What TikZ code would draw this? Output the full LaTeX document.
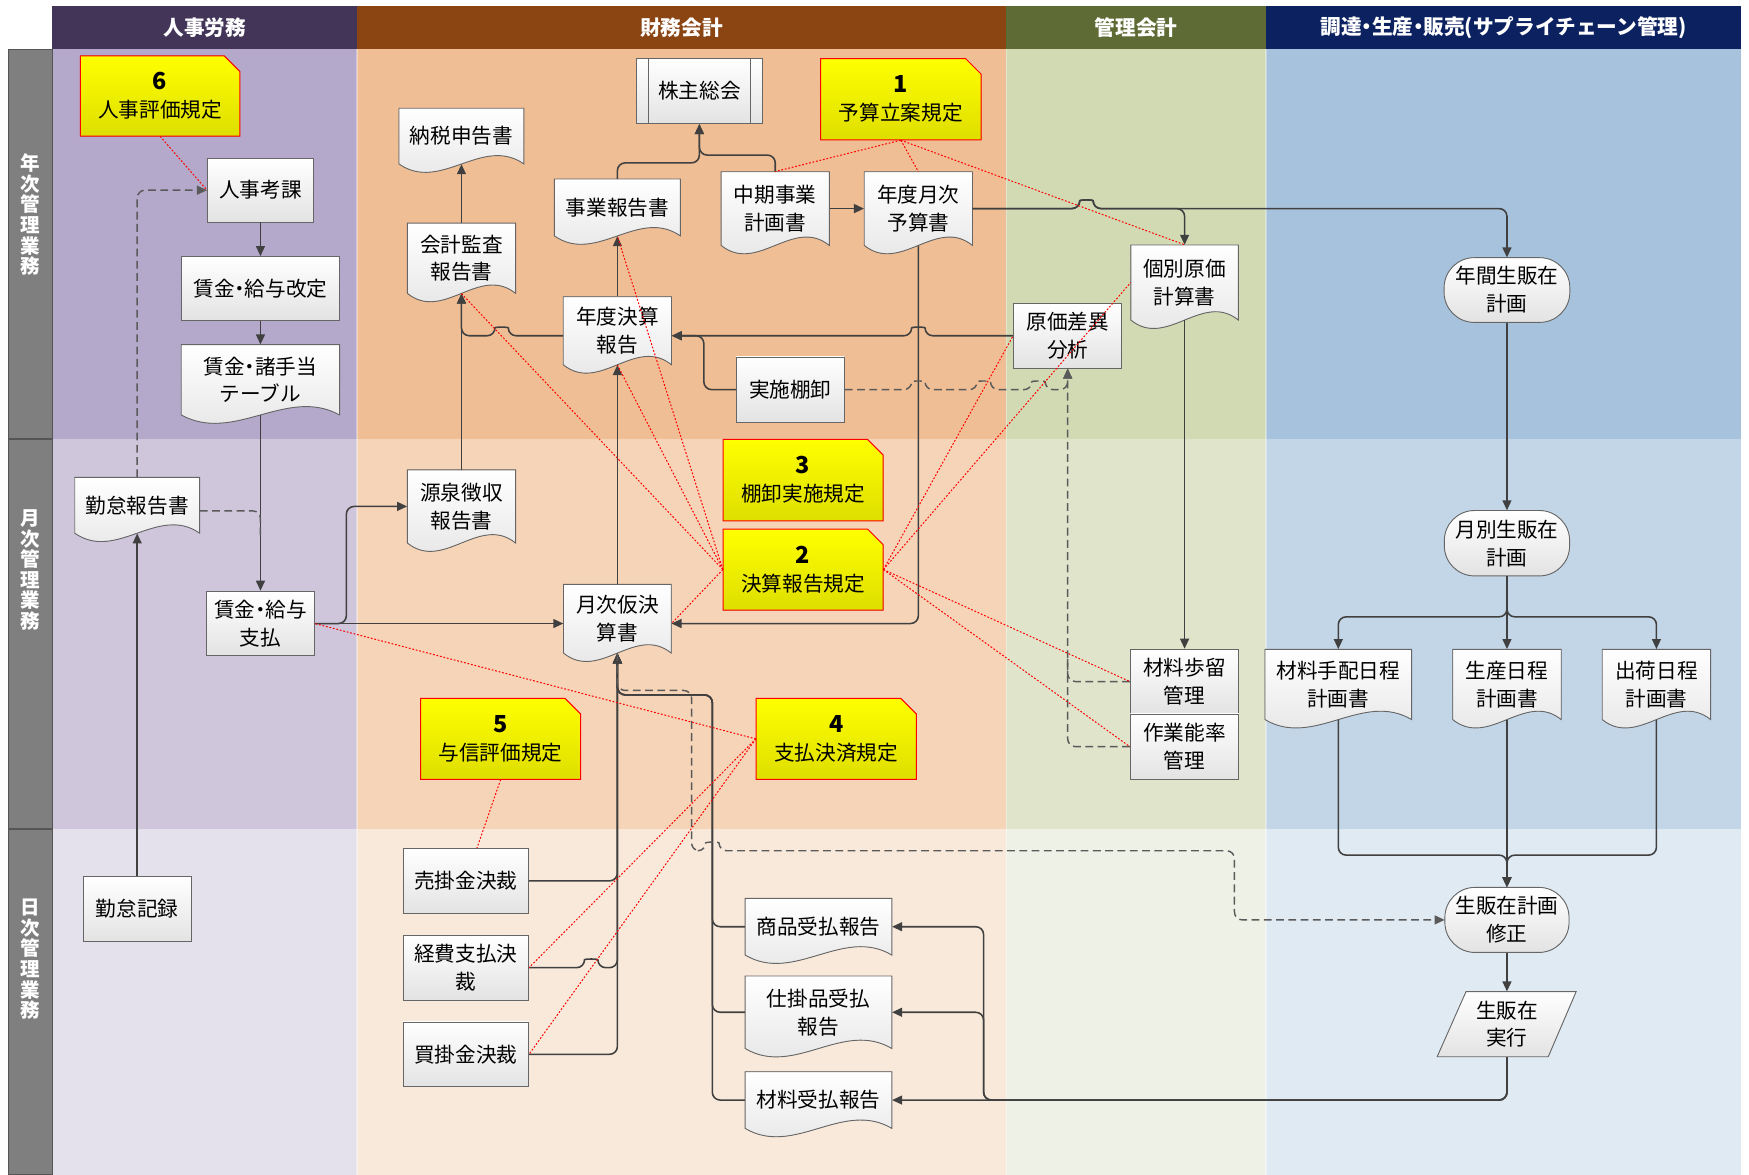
\documentclass[tikz,border=0pt]{standalone}
\usepackage{fontspec}
\setmainfont{Noto Sans CJK JP}
\usetikzlibrary{arrows.meta,calc}
\definecolor{hdA}{HTML}{433557}
\definecolor{hdB}{HTML}{8B4513}
\definecolor{hdC}{HTML}{5F6B34}
\definecolor{hdD}{HTML}{0C2160}
\definecolor{A1}{HTML}{B4A9CA}\definecolor{B1}{HTML}{F0BE94}\definecolor{C1}{HTML}{D2DAB4}\definecolor{D1}{HTML}{A7C2DC}
\definecolor{A2}{HTML}{CFC6DC}\definecolor{B2}{HTML}{F6D4B7}\definecolor{C2}{HTML}{DFE4CB}\definecolor{D2}{HTML}{C3D6E8}
\definecolor{A3}{HTML}{E5E1EC}\definecolor{B3}{HTML}{F9E9DA}\definecolor{C3}{HTML}{EEF1E6}\definecolor{D3}{HTML}{E0EAF3}
\definecolor{lg}{HTML}{7F7F7F}
\definecolor{lgb}{HTML}{555555}
\definecolor{linec}{HTML}{404040}
\definecolor{dashc}{HTML}{5A5A5A}
\definecolor{boxb}{HTML}{666666}
\definecolor{nb}{HTML}{DEDE00}
\newcommand\ndot{\makebox[0.5em][c]{・}}
\newcommand\mkdoc[6]{%
  \filldraw[docsh] ({#2-#4/2},{#3-#5/2}) -- ({#2+#4/2},{#3-#5/2}) -- ({#2+#4/2},{#3+#5/2})
    .. controls ({#2+#4/6},{#3+#5/2-26}) and ({#2-#4/6},{#3+#5/2+26}) .. ({#2-#4/2},{#3+#5/2}) -- cycle;
  \node[txt,minimum width=#4,minimum height=#5] (#1) at (#2,#3) {#6};}
\newcommand\mknote[7]{%
  \filldraw[notesh] ({#2-#4/2},{#3-#5/2}) -- ({#2+#4/2-14},{#3-#5/2}) -- ({#2+#4/2},{#3-#5/2+14}) -- ({#2+#4/2},{#3+#5/2}) -- ({#2-#4/2},{#3+#5/2}) -- cycle;
  \node[txt,minimum width=#4,minimum height=#5] (#1) at (#2,#3) {{\bfseries\fontsize{21}{26}\selectfont #6}\\#7};}
\newcommand\mkterm[6]{%
  \filldraw[docsh, rounded corners=27pt] ({#2-#4/2},{#3-#5/2}) rectangle ({#2+#4/2},{#3+#5/2});
  \node[txt,minimum width=#4,minimum height=#5] (#1) at (#2,#3) {#6};}
\begin{document}
\begin{tikzpicture}[x=1pt,y=-1pt,
  txt/.style={font=\fontsize{18.5}{25}\selectfont, align=center, inner sep=0pt},
  box/.style={txt, draw=boxb, line width=0.8pt, top color=white, bottom color=black!11},
  docsh/.style={draw=boxb, line width=0.8pt, top color=white, bottom color=black!11},
  notesh/.style={draw=red, line width=0.9pt, top color=yellow, bottom color=nb},
  conn/.style={draw=linec, line width=1.4pt, rounded corners=7pt, -{Triangle[length=9pt,width=8pt]}},
  plainl/.style={draw=linec, line width=1.4pt, rounded corners=7pt},
  dashl/.style={draw=dashc, line width=1.3pt, dash pattern=on 7pt off 4pt, rounded corners=7pt},
  reddot/.style={draw=red, line width=0.9pt, dash pattern=on 1.6pt off 1.6pt},
  hdr/.style={font=\bfseries\fontsize{18.5}{22}\selectfont, text=white, inner sep=0pt},
  lbl/.style={font=\bfseries\fontsize{17.5}{18.5}\selectfont, text=white, align=center, inner sep=0pt}]
\useasboundingbox (0,0) rectangle (1568,1053);
% lanes
\fill[A1] (47,44.2) rectangle (320,393.6);
\fill[B1] (320,44.2) rectangle (902,393.6);
\fill[C1] (902,44.2) rectangle (1135,393.6);
\fill[D1] (1135,44.2) rectangle (1561,393.6);
\fill[A2] (47,393.6) rectangle (320,743.3);
\fill[B2] (320,393.6) rectangle (902,743.3);
\fill[C2] (902,393.6) rectangle (1135,743.3);
\fill[D2] (1135,393.6) rectangle (1561,743.3);
\fill[A3] (47,743.3) rectangle (320,1053);
\fill[B3] (320,743.3) rectangle (902,1053);
\fill[C3] (902,743.3) rectangle (1135,1053);
\fill[D3] (1135,743.3) rectangle (1561,1053);
\foreach \xx in {320,902,1135} {\draw[white, opacity=0.35, line width=1pt] (\xx,44.2) -- (\xx,1053);}
% headers
\fill[hdA] (47,5.4) rectangle (320,44.2);
\fill[hdB] (320,5.4) rectangle (902,44.2);
\fill[hdC] (902,5.4) rectangle (1135,44.2);
\fill[hdD] (1135,5.4) rectangle (1561,44.2);
\node[hdr] (hA) at (183.5,24.8) {人事労務};
\node[hdr] (hB) at (611,24.8) {財務会計};
\node[hdr] (hC) at (1018.5,24.8) {管理会計};
\node[hdr] (hD) at (1348,24.8) {調達\ndot 生産\ndot 販売(サプライチェーン管理)};
% row labels
\filldraw[fill=lg, draw=lgb, line width=1.2pt] (7.5,44.2) rectangle (47,393.6);
\filldraw[fill=lg, draw=lgb, line width=1.2pt] (7.5,393.6) rectangle (47,743.3);
\filldraw[fill=lg, draw=lgb, line width=1.2pt] (7.5,743.3) rectangle (47,1053);
\node[lbl] (rA) at (27.3,192.5) {年\\次\\管\\理\\業\\務};
\node[lbl] (rB) at (27.3,511) {月\\次\\管\\理\\業\\務};
\node[lbl] (rC) at (27.3,860) {日\\次\\管\\理\\業\\務};
% ---------- nodes: column 1
\mknote{n6}{143.5}{86}{143}{72}{6}{人事評価規定}
\node[box, minimum width=95, minimum height=57] (kouka) at (233.5,170.5) {人事考課};
\node[box, minimum width=142, minimum height=57] (kaitei) at (233.5,258.5) {賃金\ndot 給与改定};
\mkdoc{table}{233.5}{340.5}{142}{63}{賃金\ndot 諸手当\\テーブル}
\mkdoc{krep}{123}{453}{112}{50}{勤怠報告書}
\node[box, minimum width=97, minimum height=58] (shiharai) at (233.5,559) {賃金\ndot 給与\\支払};
\node[box, minimum width=97, minimum height=58] (krec) at (123,815) {勤怠記録};
% ---------- column 2
\mkdoc{nouzei}{413.7}{122}{112}{50}{納税申告書}
\mkdoc{kaikei}{413.7}{231.5}{97}{63}{会計監査\\報告書}
\node[box, minimum width=112.5, minimum height=58.5] (kabu) at (627,81.5) {株主総会};
\draw[boxb, line width=0.8pt] ($(kabu.north west)+(11,0)$) -- ($(kabu.south west)+(11,0)$);
\draw[boxb, line width=0.8pt] ($(kabu.north east)+(-11,0)$) -- ($(kabu.south east)+(-11,0)$);
\mknote{n1}{807.6}{89}{144}{73}{1}{予算立案規定}
\mkdoc{jigyou}{553.5}{186}{113}{51}{事業報告書}
\mkdoc{chuuki}{695}{187}{97}{66}{中期事業\\計画書}
\mkdoc{yosan}{823.3}{187}{97}{66}{年度月次\\予算書}
\mkdoc{nendo}{553.5}{296.5}{97}{61}{年度決算\\報告}
\node[box, minimum width=97, minimum height=58.6] (tana) at (708.5,349.3) {実施棚卸};
\mkdoc{gensen}{413.7}{454}{97}{65.6}{源泉徴収\\報告書}
\mknote{n3}{720}{430.4}{143.5}{73}{3}{棚卸実施規定}
\mknote{n2}{720}{510.6}{143.5}{72.6}{2}{決算報告規定}
\mkdoc{getsuji}{553.5}{554.7}{96.6}{61.6}{月次仮決\\算書}
\mknote{n5}{448.8}{662.4}{143.5}{72.7}{5}{与信評価規定}
\mknote{n4}{749.7}{662.4}{143.7}{72.7}{4}{支払決済規定}
\node[box, minimum width=112.5, minimum height=58] (urikake) at (417.6,789.7) {売掛金決裁};
\node[box, minimum width=112.5, minimum height=58] (keihi) at (417.6,867.5) {経費支払決\\裁};
\node[box, minimum width=112.5, minimum height=58] (kaikake) at (417.6,945.2) {買掛金決裁};
\mkdoc{shouhin}{733.8}{830.8}{131.5}{50.8}{商品受払報告}
\mkdoc{shikake}{733.8}{907.5}{131.5}{65}{仕掛品受払\\報告}
\mkdoc{zairyo}{733.8}{986.2}{131.5}{50.8}{材料受払報告}
% ---------- column 3
\node[box, minimum width=97, minimum height=58] (genka) at (957.2,301) {原価差異\\分析};
\mkdoc{kobetsu}{1062}{253.3}{96.4}{67.3}{個別原価\\計算書}
\node[box, minimum width=97.3, minimum height=58] (budomari) at (1062,611) {材料歩留\\管理};
\node[box, minimum width=97.3, minimum height=58.7] (nouritsu) at (1062,669.4) {作業能率\\管理};
% ---------- column 4
\mkterm{nenkan}{1351}{260}{112.7}{58}{年間生販在\\計画}
\mkterm{tsuki}{1351}{487}{112.3}{58.6}{月別生販在\\計画}
\mkdoc{tehai}{1199.8}{613.6}{131.5}{63}{材料手配日程\\計画書}
\mkdoc{seisan}{1351}{613.6}{97.3}{63}{生産日程\\計画書}
\mkdoc{shukka}{1485}{613.6}{97.2}{63}{出荷日程\\計画書}
\mkterm{shusei}{1351}{824.7}{111.3}{58.3}{生販在計画\\修正}
\filldraw[docsh] (1314.3,889) -- (1413,889) -- (1388,947.4) -- (1288.4,947.4) -- cycle;
\node[txt, minimum width=100, minimum height=58.4] (jikkou) at (1351,918.2) {生販在\\実行};
% ---------- connectors: column 1
\draw[conn] (kouka.south) -- (kaitei.north);
\draw[conn] (kaitei.south) -- (table.north);
\draw[conn] (table.south) -- (shiharai.north);
\draw[dashl, -{Triangle[length=9pt,width=8pt]}] (krep.north) |- (kouka.west);
\draw[dashl] ($(krep.east)+(0,5)$) -- (233.5,458) -- (233.5,480);
\draw[conn] (krec.north) -- (krep.south);
\draw[conn] (shiharai.east) -- (310.5,559) |- (gensen.west);
\draw[conn] (shiharai.east) -- (shiharai.east -| getsuji.west);
% column 2
\draw[conn] (gensen.north) -- (kaikei.south);
\draw[conn] (kaikei.north) -- (nouzei.south);
\draw[conn] (nendo.west |- genka.west) -- (455.7,301) .. controls (455.7,293) and (443.7,293) .. (443.7,301) -- (413.7,301) -- (kaikei.south);
\draw[conn] (genka.west) -- (829.3,301) .. controls (829.3,293) and (817.3,293) .. (817.3,301) -- (genka.west -| nendo.east);
\draw[conn] (tana.west) -- (631,349.3) -- (631,301) -- (genka.west -| nendo.east);
\draw[conn] (nendo.north) -- (jigyou.south);
\draw[conn] (getsuji.north) -- (nendo.south);
\draw[conn] (jigyou.north) -- (553.5,146) -- (627,146) -- (kabu.south);
\draw[conn] (chuuki.north) -- (695,139) -- (627,139) -- (kabu.south);
\draw[conn] (chuuki.east) -- (yosan.west);
\draw[conn] (yosan.east) -- (968,187) .. controls (968,179) and (980,179) .. (980,187) -- (1062,187) -- (kobetsu.north);
\draw[conn] (yosan.east) -- (968,187) .. controls (968,179) and (980,179) .. (980,187) -- (1351,187) -- (nenkan.north);
\draw[conn] (yosan.south) -- (yosan.south |- shiharai.east) -- (getsuji.east |- shiharai.east);
\draw[dashl, -{Triangle[length=9pt,width=8pt]}] (tana.east) -- (817.3,349.3) .. controls (817.3,341.3) and (829.3,341.3) .. (829.3,349.3)
   -- (876,349.3) .. controls (876,341.3) and (888,341.3) .. (888,349.3)
   -- (925,349.3) .. controls (925,341.3) and (937,341.3) .. (937,349.3)
   -- (957.2,349.3) -- (genka.south);
\draw[dashl, -{Triangle[length=9pt,width=8pt]}] (nouritsu.west) -| (genka.south);
\draw[dashl] (budomari.west) -- (957.2,611) -- (957.2,590);
\draw[conn] (kobetsu.south) -- (budomari.north);
% column 4
\draw[conn] (nenkan.south) -- (tsuki.north);
\draw[conn] (tsuki.south) -- (1351,553) -| (tehai.north);
\draw[conn] (tsuki.south) -- (seisan.north);
\draw[conn] (tsuki.south) -- (1351,553) -| (shukka.north);
\draw[conn] (tehai.south) -- (1199.8,766.6) -- (1351,766.6) -- (shusei.north);
\draw[conn] (shukka.south) -- (1485,766.6) -- (1351,766.6) -- (shusei.north);
\draw[conn] (seisan.south) -- (shusei.north);
\draw[conn] (shusei.south) -- (jikkou.north);
\draw[conn] (jikkou.south) |- (zairyo.east);
\draw[conn] (jikkou.south) -- (1351,986.2) -- (881.8,986.2) -- (881.8,907.5) -- (shikake.east);
\draw[conn] (jikkou.south) -- (1351,986.2) -- (881.8,986.2) -- (881.8,830.8) -- (shouhin.east);
% receipts and decisions to getsuji
\draw[conn] (zairyo.west) -- (638.6,986.2) -- (638.6,623) -- (553.5,623) -- (getsuji.south);
\draw[conn] (shikake.west) -- (638.6,907.5) -- (638.6,623) -- (553.5,623) -- (getsuji.south);
\draw[conn] (shouhin.west) -- (638.6,830.8) -- (638.6,623) -- (553.5,623) -- (getsuji.south);
\draw[conn] (kaikake.east) -- (553.5,945.2) -- (getsuji.south);
\draw[conn] (urikake.east) -- (553.5,789.7) -- (getsuji.south);
\draw[conn] (keihi.east) -- (524,867.5) .. controls (524,859.5) and (536,859.5) .. (536,867.5) -- (553.5,867.5) -- (getsuji.south);
\draw[dashl, -{Triangle[length=9pt,width=8pt]}] (getsuji.south) -- (553.5,619) -- (620,619) -- (620,762.7)
   -- (632.6,762.7) .. controls (632.6,754.7) and (644.6,754.7) .. (644.6,762.7)
   -- (1106.7,762.7) -- (1106.7,824.7) -- (shusei.west);
% ---------- red dotted rule links
\draw[reddot] (n6.south) -- (kouka.west);
\draw[reddot] (n1.south) -- (chuuki.north);
\draw[reddot] (n1.south) -- (yosan.north);
\draw[reddot] (n1.south) -- (kobetsu.north);
\draw[reddot] (n2.west) -- (kaikei.south);
\draw[reddot] (n2.west) -- (nendo.south);
\draw[reddot] (n2.west) -- (jigyou.south);
\draw[reddot] (n2.west) -- (getsuji.east |- shiharai.east);
\draw[reddot] (n2.east) -- (genka.west);
\draw[reddot] (n2.east) -- (kobetsu.west);
\draw[reddot] (n2.east) -- (budomari.west);
\draw[reddot] (n2.east) -- (nouritsu.west);
\draw[reddot] (n5.south) -- ($(urikake.north)+(10,0)$);
\draw[reddot] (n4.west) -- (shiharai.east);
\draw[reddot] (n4.west) -- (keihi.east);
\draw[reddot] (n4.west) -- (kaikake.east);
\end{tikzpicture}
\end{document}
